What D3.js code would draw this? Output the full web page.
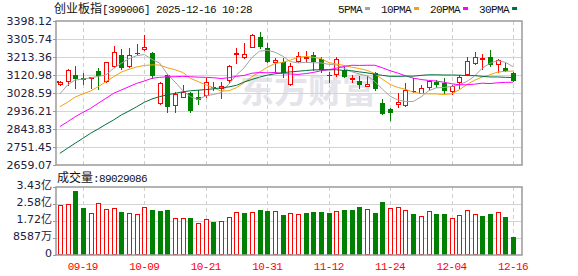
<!DOCTYPE html>
<html>
<head>
<meta charset="utf-8">
<script src="https://cdn.jsdelivr.net/npm/d3@7"></script>
<style>
    body { margin: 0; background: #fff; }
    svg { display: block; }
    .mono { font-family: "Liberation Mono", monospace; font-size: 11px; letter-spacing: -0.6px; }
    .cjk { font-family: "Noto Sans CJK SC", sans-serif; font-size: 12px; }
    .ylab text { font-family: "DejaVu Sans", "Noto Sans CJK SC", sans-serif; font-size: 11px; fill: #202040; }
</style>
</head>
<body>
<div id="chart"></div>
<script>
// trading days shown (MM-DD)
const dates = ["09-16","09-17","09-18","09-19","09-22","09-23","09-24","09-25","09-26","09-29",
    "09-30","10-09","10-10","10-13","10-14","10-15","10-16","10-17","10-20","10-21",
    "10-22","10-23","10-24","10-27","10-28","10-29","10-30","10-31","11-03","11-04",
    "11-05","11-06","11-07","11-10","11-11","11-12","11-13","11-14","11-17","11-18",
    "11-19","11-20","11-21","11-24","11-25","11-26","11-27","11-28","12-01","12-02",
    "12-03","12-04","12-05","12-08","12-09","12-10","12-11","12-12","12-15","12-16"];

const openP = [3075,3090,3121,3104,3104,3141,3090,3169,3224,3169,
    3236,3254,3232,2976,3121,2967,3010,3027,3010,3018,
    3061,3053,3095,3230,3212,3266,3318,3258,3186,3189,
    3073,3193,3207,3224,3202,3121,3125,3147,3100,3090,
    3066,3130,2979,2947,2974,2967,3039,3030,3061,3087,
    3078,3040,3087,3125,3184,3207,3212,3176,3155,3130];
const closeP = [3087,3147,3101,3097,3112,3116,3186,3237,3155,3226,
    3229,3264,3117,3078,2958,3022,3035,2936,2993,3084,
    3053,3066,3169,3235,3227,3326,3266,3189,3198,3130,
    3169,3220,3215,3186,3147,3118,3203,3112,3107,3070,
    3076,3048,2922,2928,2984,3044,3035,3053,3092,3070,
    3040,3066,3111,3193,3212,3210,3172,3196,3143,3092];
const highP = [3090,3152,3167,3130,3112,3158,3189,3270,3254,3261,
    3278,3326,3241,3084,3125,3035,3070,3035,3044,3104,
    3087,3084,3172,3261,3283,3330,3340,3283,3207,3207,
    3181,3238,3244,3241,3212,3135,3212,3164,3121,3118,
    3118,3135,2998,2950,3027,3078,3104,3070,3095,3095,
    3107,3070,3121,3215,3238,3227,3249,3203,3181,3138];
const lowP = [3068,3070,3053,3073,3056,3048,3087,3164,3152,3164,
    3222,3249,3104,2971,2933,2930,3007,2933,2972,3010,
    3044,3005,3084,3181,3210,3263,3261,3186,3138,3112,
    3070,3186,3186,3147,3135,3084,3118,3112,3087,3056,
    3066,3043,2919,2890,2958,2964,3035,3027,3049,3061,
    3030,3022,3053,3121,3179,3152,3169,3135,3143,3090];

const ma5 = [3024,3070,3095,3100,3106,3114,3121,3155,3181,3205,
    3220,3226,3201,3182,3125,3085,3041,3010,2995,3014,
    3021,3030,3074,3121,3158,3210,3243,3248,3238,3218,
    3190,3183,3186,3184,3183,3176,3172,3155,3138,3126,
    3117,3088,3048,3012,2993,2985,2985,3008,3040,3055,
    3057,3062,3070,3088,3116,3156,3181,3195,3186,3164];
const ma10 = [2958,2981,3008,3024,3039,3061,3087,3112,3136,3150,
    3162,3170,3173,3172,3158,3148,3134,3104,3087,3071,
    3055,3038,3040,3056,3082,3112,3136,3160,3180,3186,
    3197,3212,3216,3212,3205,3185,3177,3170,3161,3154,
    3145,3128,3099,3073,3057,3048,3033,3026,3024,3024,
    3021,3024,3045,3072,3094,3110,3122,3136,3140,3141];
const ma20 = [2856,2881,2907,2929,2950,2976,3001,3027,3044,3061,
    3078,3090,3104,3109,3112,3112,3114,3112,3110,3109,
    3107,3103,3107,3114,3119,3130,3134,3132,3134,3128,
    3126,3124,3128,3134,3143,3148,3156,3165,3171,3170,
    3171,3171,3158,3143,3131,3117,3105,3098,3093,3090,
    3084,3076,3071,3071,3074,3079,3077,3081,3083,3084];
const ma30 = [2719,2745,2771,2796,2822,2844,2868,2890,2916,2936,
    2958,2981,2998,3010,3019,3027,3035,3040,3043,3046,
    3050,3055,3060,3068,3085,3098,3110,3120,3127,3133,
    3137,3140,3144,3147,3148,3148,3148,3144,3143,3137,
    3132,3125,3119,3114,3114,3115,3115,3119,3122,3122,
    3121,3121,3120,3118,3118,3114,3111,3111,3109,3108];

// volume, millions of shares
const volume = [252,256,323,237,210,261,232,236,215,210,
    205,242,227,222,227,187,187,187,160,182,
    167,170,190,216,212,216,227,222,222,202,
    210,205,212,217,217,212,222,227,227,242,
    232,212,268,236,241,226,207,195,221,207,
    207,187,200,226,205,197,207,216,192,89.029086];

const priceTicks = ["3398.12","3305.74","3213.36","3120.98","3028.59","2936.21","2843.83","2751.45","2659.07"];
const volTicks = [343.48, 257.61, 171.74, 85.87, 0];
const volTickLabels = ["3.43亿","2.58亿","1.72亿","8587万","0"];
const dateTicks = ["09-19","10-09","10-21","10-31","11-12","11-24","12-04","12-16"];
const maNames = ["5PMA","10PMA","20PMA","30PMA"];
const maColors = ["#a3a3a3","#f2a20c","#ff00ff","#00703a"];
const prevCloseMark = 3086;

const UP = "#ff0000", DOWN = "#008000";
const W = 578, H = 276;
const left = 56, right = 522;
const pTop = 21, pBot = 165, vTop = 187, vBot = 255;

const svg = d3.select("#chart").append("svg")
    .attr("width", W)
    .attr("height", H);

// scales
const x = d3.scaleLinear().domain([0, dates.length - 1]).range([59.84, 513]);
const y = d3.scaleLinear().domain([+priceTicks[8], +priceTicks[0]]).range([pBot, pTop]);
const yv = d3.scaleLinear().domain([0, volTicks[0]]).range([vBot, vTop]);

// watermark
svg.append("text")
    .attr("x", 240).attr("y", 103)
    .attr("font-family", "Noto Sans CJK SC")
    .attr("font-size", 34)
    .attr("font-weight", "bold")
    .attr("fill", "#e4e4ea")
    .text("东方财富");

// grid lines
const grid = svg.append("g").attr("shape-rendering", "crispEdges");
grid.selectAll(".hp").data(priceTicks.slice(1, -1)).join("line")
    .attr("x1", left).attr("x2", right)
    .attr("y1", d => Math.round(y(+d)) + 0.5).attr("y2", d => Math.round(y(+d)) + 0.5)
    .attr("stroke", "#d4d4d4");
grid.selectAll(".hv").data(volTicks.slice(1, -1)).join("line")
    .attr("x1", left).attr("x2", right)
    .attr("y1", d => Math.round(yv(d)) + 0.5).attr("y2", d => Math.round(yv(d)) + 0.5)
    .attr("stroke", "#d4d4d4");
[[pTop, pBot], [vTop, vBot]].forEach(([t, b]) => {
    grid.selectAll(null).data(dateTicks).join("line")
        .attr("x1", d => Math.round(x(dates.indexOf(d))) + 0.5)
        .attr("x2", d => Math.round(x(dates.indexOf(d))) + 0.5)
        .attr("y1", t).attr("y2", b)
        .attr("stroke", "#cfcfcf")
        .attr("stroke-dasharray", "4,3");
});

// clip for price panel
svg.append("defs").append("clipPath").attr("id", "clip")
    .append("rect").attr("x", left).attr("y", pTop).attr("width", right - left).attr("height", pBot - pTop);

// candles
const idx = d3.range(dates.length);
const candles = svg.append("g").attr("shape-rendering", "crispEdges").attr("clip-path", "url(#clip)");
const x0 = i => Math.round(x(i)) - 2;

candles.selectAll(".wick").data(idx).join("line")
    .attr("x1", i => x0(i) + 2.5).attr("x2", i => x0(i) + 2.5)
    .attr("y1", i => Math.round(y(highP[i])))
    .attr("y2", i => Math.round(y(lowP[i])) + 1)
    .attr("stroke", i => closeP[i] >= openP[i] ? UP : DOWN);

candles.selectAll(".body").data(idx).join("rect")
    .each(function (i) {
        const up = closeP[i] >= openP[i];
        const top = Math.round(y(Math.max(openP[i], closeP[i])));
        const bot = Math.round(y(Math.min(openP[i], closeP[i])));
        const r = d3.select(this);
        if (up) {
            r.attr("x", x0(i) + 0.5).attr("y", top + 0.5)
                .attr("width", 4).attr("height", Math.max(bot - top, 1))
                .attr("fill", "#fff").attr("stroke", UP);
        } else {
            r.attr("x", x0(i)).attr("y", top)
                .attr("width", 5).attr("height", Math.max(bot - top, 1))
                .attr("fill", DOWN);
        }
    });

// moving averages
const maGroup = svg.append("g").attr("clip-path", "url(#clip)");
[ma5, ma10, ma20, ma30].forEach((ma, k) => {
    maGroup.append("path")
        .datum(ma)
        .attr("d", d3.line().x((d, i) => x(i)).y(d => y(d)))
        .attr("fill", "none")
        .attr("stroke", maColors[k])
        .attr("stroke-width", 1);
});

// volume bars
const vols = svg.append("g").attr("shape-rendering", "crispEdges");
vols.selectAll("rect").data(idx).join("rect")
    .each(function (i) {
        const up = i === 0 ? true : closeP[i] >= closeP[i - 1];
        const top = Math.round(yv(volume[i]));
        const r = d3.select(this);
        if (up) {
            r.attr("x", x0(i) + 0.5).attr("y", top + 0.5)
                .attr("width", 4).attr("height", vBot - top - 1)
                .attr("fill", "#fff").attr("stroke", UP);
        } else {
            r.attr("x", x0(i)).attr("y", top)
                .attr("width", 5).attr("height", vBot - top)
                .attr("fill", DOWN);
        }
    });

// frames
const frame = svg.append("g").attr("fill", "none").attr("stroke", "#9a9a9a").attr("stroke-width", 1.5);
frame.append("rect").attr("x", left).attr("y", pTop).attr("width", right - left).attr("height", pBot - pTop);
frame.append("rect").attr("x", left).attr("y", vTop).attr("width", right - left).attr("height", vBot - vTop);

// left axes
const pAxis = svg.append("g").attr("class", "ylab")
    .attr("transform", "translate(" + left + ",0)")
    .call(d3.axisLeft(y).tickValues(priceTicks.map(Number)).tickFormat((d, i) => priceTicks[i]).tickSize(3).tickPadding(1));
const vAxis = svg.append("g").attr("class", "ylab")
    .attr("transform", "translate(" + left + ",0)")
    .call(d3.axisLeft(yv).tickValues(volTicks).tickFormat((d, i) => volTickLabels[i]).tickSize(3).tickPadding(1));
vAxis.selectAll("text").attr("dy", "0.1em");
[pAxis, vAxis].forEach(a => {
    a.select(".domain").remove();
    a.selectAll("line").attr("stroke", "#9a9a9a");
});

// previous close marker
svg.append("rect")
    .attr("x", left + 1).attr("y", Math.round(y(prevCloseMark)) - 1)
    .attr("width", 2).attr("height", 2)
    .attr("fill", UP);

// date labels
svg.append("g").selectAll("text").data(dateTicks).join("text")
    .attr("class", "mono")
    .attr("x", d => x(dates.indexOf(d)))
    .attr("y", 270)
    .attr("text-anchor", "middle")
    .attr("fill", "#ff0000")
    .text(d => d);

// title
const title = svg.append("text").attr("x", 54).attr("y", 13).attr("fill", "#111");
title.append("tspan").attr("class", "cjk").text("创业板指");
title.append("tspan").attr("class", "mono").text("[399006] 2025-12-16 10:28");

// volume caption
const cap = svg.append("text").attr("x", 57).attr("y", 182).attr("fill", "#111");
cap.append("tspan").attr("class", "cjk").text("成交量");
cap.append("tspan").attr("class", "mono").text(":89029086");

// legend
let lx = 338;
maNames.forEach((name, k) => {
    const t = svg.append("text")
        .attr("class", "mono")
        .attr("x", lx).attr("y", 12.5)
        .attr("fill", "#111")
        .text(name);
    const w = t.node().getComputedTextLength();
    svg.append("rect")
        .attr("x", lx + w + 3).attr("y", 7)
        .attr("width", 5).attr("height", 3)
        .attr("fill", maColors[k]);
    lx += w + 19;
});
</script>
</body>
</html>
